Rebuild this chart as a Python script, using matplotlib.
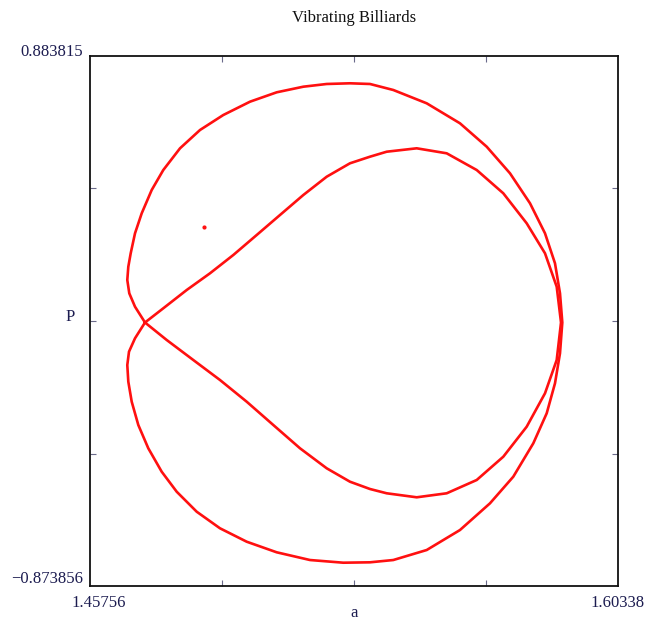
import matplotlib
matplotlib.use("Agg")
import matplotlib.pyplot as plt

plt.rcParams["font.family"] = ["Liberation Serif", "DejaVu Serif"]

# axis range (from the corner labels)
A_MIN, A_MAX = 1.45756, 1.60338
P_MIN, P_MAX = -0.873856, 0.883815

# outer loop of the separatrix (clockwise from the crossing)
outer_a = [1.47275, 1.46999, 1.46841, 1.46786, 1.46814, 1.46880, 1.46999, 1.47184,
           1.47460, 1.47780, 1.48242, 1.48794, 1.49437, 1.50175, 1.50912, 1.51647,
           1.52293, 1.52936, 1.53489, 1.54132, 1.55055, 1.55974, 1.56712, 1.57355,
           1.57908, 1.58322, 1.58598, 1.58736, 1.58800, 1.58736, 1.58598, 1.58369,
           1.57999, 1.57446, 1.56803, 1.55974, 1.55055, 1.54132, 1.53489, 1.52751,
           1.51832, 1.50912, 1.50084, 1.49346, 1.48703, 1.48150, 1.47736, 1.47366,
           1.47090, 1.46908, 1.46814, 1.46786, 1.46833, 1.46999, 1.47275]
outer_p = [0.0000, 0.0524, 0.0968, 0.1409, 0.1850, 0.2295, 0.2958, 0.3621,
           0.4394, 0.5057, 0.5777, 0.6384, 0.6881, 0.7323, 0.7634, 0.7820,
           0.7910, 0.7933, 0.7910, 0.7711, 0.7269, 0.6606, 0.5830, 0.4948,
           0.3953, 0.2958, 0.1963, 0.0968, 0.0000, -0.1022, -0.2016, -0.3011,
           -0.4006, -0.5114, -0.5996, -0.6882, -0.7545, -0.7877, -0.7953, -0.7966,
           -0.7877, -0.7621, -0.7270, -0.6825, -0.6275, -0.5611, -0.4948, -0.4172,
           -0.3399, -0.2627, -0.1963, -0.1410, -0.0968, -0.0524, 0.0000]

# inner loop (from the crossing, up and to the right)
inner_a = [1.47275, 1.47780, 1.48427, 1.49070, 1.49714, 1.50360, 1.51003, 1.51647,
           1.52293, 1.52936, 1.53489, 1.53950, 1.54779, 1.55607, 1.56436, 1.57170,
           1.57816, 1.58322, 1.58645, 1.58764, 1.58645, 1.58322, 1.57816, 1.57170,
           1.56436, 1.55607, 1.54779, 1.53950, 1.53489, 1.52936, 1.52293, 1.51556,
           1.50818, 1.50084, 1.49346, 1.48609, 1.47874, 1.47275]
inner_p = [0.0000, 0.0471, 0.1078, 0.1632, 0.2239, 0.2902, 0.3565, 0.4228,
           0.4835, 0.5280, 0.5499, 0.5664, 0.5777, 0.5611, 0.5057, 0.4285,
           0.3290, 0.2295, 0.1187, 0.0000, -0.1244, -0.2348, -0.3456, -0.4451,
           -0.5223, -0.5664, -0.5797, -0.5664, -0.5522, -0.5280, -0.4835, -0.4172,
           -0.3399, -0.2627, -0.1907, -0.1244, -0.0580, 0.0000]

# lone orbit point
dot_a = [1.48904]
dot_p = [0.3167]

ink = "#1c1c50"

fig = plt.figure(figsize=(6.47, 6.20), dpi=100)
ax = fig.add_axes([90 / 647, 34 / 620, 528 / 647, 530 / 620])

ax.plot(outer_a, outer_p, color="#ff1010", lw=1.9, solid_joinstyle="round")
ax.plot(inner_a, inner_p, color="#ff1010", lw=1.9, solid_joinstyle="round")
ax.plot(dot_a, dot_p, "o", color="#ff1010", ms=2)

ax.set_xlim(A_MIN, A_MAX)
ax.set_ylim(P_MIN, P_MAX)

# unlabeled inner ticks at the quarters
ax.set_xticks([A_MIN + f * (A_MAX - A_MIN) for f in (0.25, 0.5, 0.75)])
ax.set_yticks([P_MIN + f * (P_MAX - P_MIN) for f in (0.25, 0.5, 0.75)])
ax.tick_params(which="both", direction="in", length=4, width=0.8, color="#6a6a8a",
               top=True, right=True, labelbottom=False, labelleft=False)
for s in ax.spines.values():
    s.set_linewidth(1.3)
    s.set_color("#111111")

# corner labels
ax.text(-0.013, 1.008, f"{P_MAX:g}", transform=ax.transAxes, ha="right", va="center",
        fontsize=12, color=ink)
ax.text(-0.013, 0.013, f"\u2212{-P_MIN:g}", transform=ax.transAxes, ha="right", va="center",
        fontsize=12, color=ink)
ax.text(0.017, -0.032, f"{A_MIN:g}", transform=ax.transAxes, ha="center", va="center",
        fontsize=12, color=ink)
ax.text(1.0, -0.032, f"{A_MAX:g}", transform=ax.transAxes, ha="center", va="center",
        fontsize=12, color=ink)

ax.text(0.5, -0.051, "a", transform=ax.transAxes, ha="center", va="center",
        fontsize=12, color=ink)
ax.text(-0.038, 0.5075, "P", transform=ax.transAxes, ha="center", va="center",
        fontsize=12, color=ink)
ax.text(0.5, 1.0717, "Vibrating Billiards", transform=ax.transAxes, ha="center",
        va="center", fontsize=12, color="#111111")

fig.savefig("out.png", dpi=100)
